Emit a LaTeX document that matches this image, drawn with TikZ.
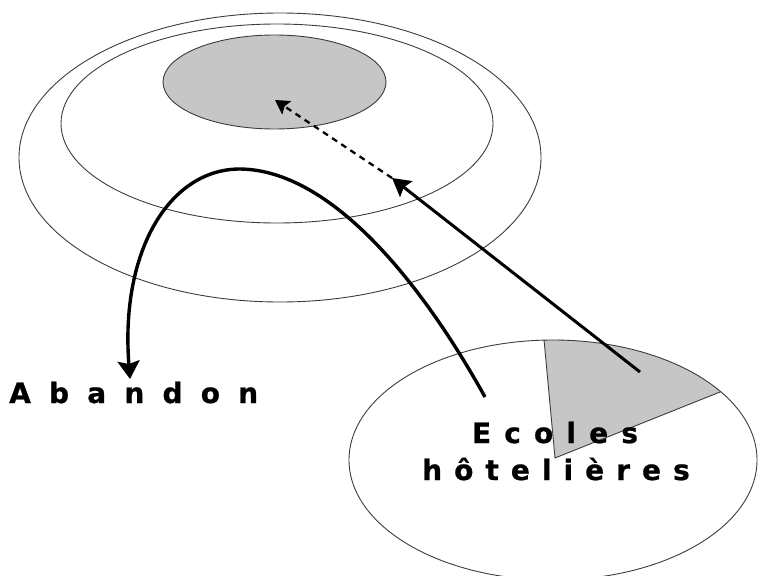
\documentclass[tikz,border=0pt]{standalone}
\usepackage{fontspec}
\usetikzlibrary{shapes.geometric,arrows.meta}
\newfontfamily\labfont{DejaVu Sans}[BoldFeatures={FakeBold=0.8}]
\definecolor{wedgegray}{RGB}{198,198,198}
\definecolor{rimgray}{RGB}{60,60,60}
\begin{document}
\begin{tikzpicture}[x=1pt,y=-1pt,
  rim/.style={draw=rimgray, line width=0.9pt},
  ring/.style={ellipse, rim, inner sep=0pt, outer sep=0pt},
  lab/.style={font=\labfont\bfseries\fontsize{28}{35}\selectfont, inner sep=0pt},
  curvearrow/.style={line width=3.4pt, -{Stealth[length=18pt,width=22pt,inset=3pt]}},
  bigarrow/.style={line width=3pt, -{Stealth[length=18pt,width=20pt,inset=3pt]}},
  dasharrow/.style={line width=2.3pt, dash pattern=on 6pt off 5pt, -{Stealth[length=14pt,width=16pt,inset=2.5pt]}}]
\useasboundingbox (0,0) rectangle (759,575);
% upper ellipses
\node[ring, minimum width=522pt, minimum height=289pt] (outer) at (280,157.5) {};
\node[ring, minimum width=432pt, minimum height=199pt] (middle) at (277,123.5) {};
\node[ring, fill=wedgegray, minimum width=223pt, minimum height=94pt] (core) at (274.5,82) {};
% lower ellipse with gray sector
\begin{scope}
  \clip (553,460) ellipse [x radius=204, y radius=120];
  \fill[wedgegray] (555,458) -- (540.3,300) -- (800,300) -- (800,360) -- cycle;
  \draw[rim] (540.3,300) -- (555,458) -- (800,360);
\end{scope}
\node[ring, minimum width=408pt, minimum height=240pt] (school) at (553,460) {};
% labels
\node[lab, anchor=base west] (abandon) at (9,403) {\addfontfeature{LetterSpace=65}Abandon};
\node[lab, anchor=base] (ecoles) at (555,443) {\addfontfeature{LetterSpace=47}Ecoles};
\node[lab, anchor=base] (hotel) at (556,480) {\addfontfeature{LetterSpace=43}hôtelières};
% connectors
\coordinate (cstart) at (485,397);
\coordinate (ctop) at (240,169);
\coordinate (cend) at (130,379);
\draw[curvearrow] (cstart) .. controls (420,280) and (330,170) .. (ctop) .. controls (170,169) and (120,250) .. (cend);
\coordinate (wstart) at (640,372);
\coordinate (wmid) at (392,178);
\coordinate (ctarget) at (275,100);
\draw[dasharrow] (wmid) -- (ctarget);
\draw[bigarrow] (wstart) -- (wmid);
\end{tikzpicture}
\end{document}
